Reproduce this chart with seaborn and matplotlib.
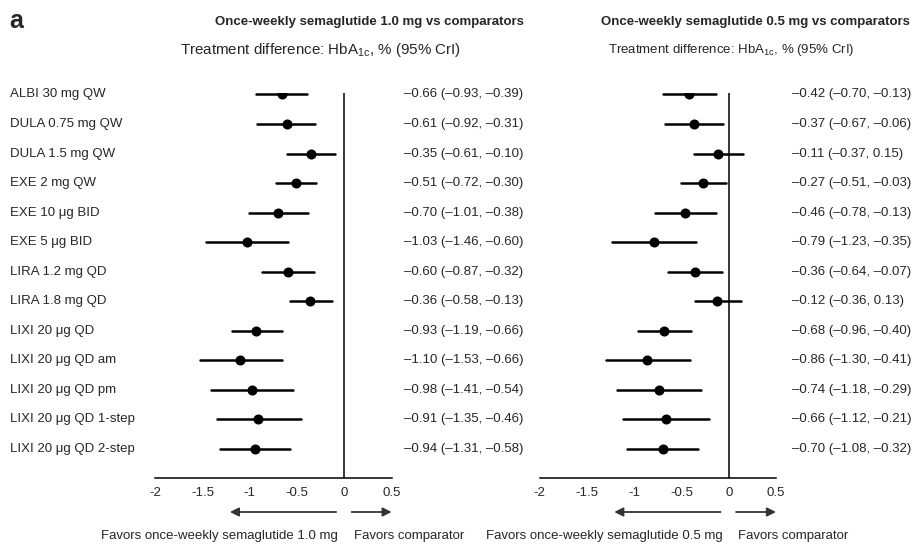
import pandas as pd
import seaborn as sns
import matplotlib.pyplot as plt
from matplotlib.patches import FancyArrowPatch
from matplotlib.transforms import blended_transform_factory

# Comparators (rows top to bottom)
comparators = ["ALBI 30 mg QW", "DULA 0.75 mg QW", "DULA 1.5 mg QW", "EXE 2 mg QW",
               "EXE 10 \u03bcg BID", "EXE 5 \u03bcg BID", "LIRA 1.2 mg QD", "LIRA 1.8 mg QD",
               "LIXI 20 \u03bcg QD", "LIXI 20 \u03bcg QD am", "LIXI 20 \u03bcg QD pm",
               "LIXI 20 \u03bcg QD 1-step", "LIXI 20 \u03bcg QD 2-step"]

# Semaglutide 1.0 mg vs comparators: estimate, lower, upper
sema10_est = [-0.66, -0.61, -0.35, -0.51, -0.70, -1.03, -0.60, -0.36, -0.93, -1.10, -0.98, -0.91, -0.94]
sema10_lo = [-0.93, -0.92, -0.61, -0.72, -1.01, -1.46, -0.87, -0.58, -1.19, -1.53, -1.41, -1.35, -1.31]
sema10_hi = [-0.39, -0.31, -0.10, -0.30, -0.38, -0.60, -0.32, -0.13, -0.66, -0.66, -0.54, -0.46, -0.58]

# Semaglutide 0.5 mg vs comparators
sema05_est = [-0.42, -0.37, -0.11, -0.27, -0.46, -0.79, -0.36, -0.12, -0.68, -0.86, -0.74, -0.66, -0.70]
sema05_lo = [-0.70, -0.67, -0.37, -0.51, -0.78, -1.23, -0.64, -0.36, -0.96, -1.30, -1.18, -1.12, -1.08]
sema05_hi = [-0.13, -0.06, 0.15, -0.03, -0.13, -0.35, -0.07, 0.13, -0.40, -0.41, -0.29, -0.21, -0.32]

x_ticks = [-2, -1.5, -1, -0.5, 0, 0.5]
x_ticklabels = ["-2", "-1.5", "-1", "-0.5", "0", "0.5"]

panels = [
    dict(title="Once-weekly semaglutide 1.0 mg vs comparators", dose="1.0 mg",
         est=sema10_est, lo=sema10_lo, hi=sema10_hi,
         rect=[0.170, 0.121, 0.259, 0.708], val_x=0.443,
         title_x=0.405, sub_x=0.197, sub_size=10.9),
    dict(title="Once-weekly semaglutide 0.5 mg vs comparators", dose="0.5 mg",
         est=sema05_est, lo=sema05_lo, hi=sema05_hi,
         rect=[0.591, 0.121, 0.259, 0.708], val_x=0.867,
         title_x=0.827, sub_x=0.666, sub_size=9.5),
]


def fmt(v):
    s = f"{abs(v):.2f}"
    return ("\u2013" + s) if v < 0 else s


sns.set_theme(style="white")
plt.rcParams['font.family'] = ['Liberation Sans', 'DejaVu Sans']
plt.rcParams['mathtext.fontset'] = 'custom'
plt.rcParams['mathtext.rm'] = 'Liberation Sans'

fig = plt.figure(figsize=(9.13, 5.44), dpi=100)

for p in panels:
    ax = fig.add_axes(p["rect"])
    # long format: lo / est / hi per row -> median = estimate, full range = CrI
    rows = []
    for name, e, l, h in zip(comparators, p["est"], p["lo"], p["hi"]):
        for v in (l, e, h):
            rows.append({"comparator": name, "diff": v})
    df = pd.DataFrame(rows)
    sns.pointplot(data=df, x="diff", y="comparator", order=comparators, estimator="median",
                  errorbar=("pi", 100), linestyle="none", marker="o", markersize=5.2,
                  color="black", err_kws={"linewidth": 1.8}, ax=ax)
    ax.axvline(0, color="black", linewidth=1.1)
    ax.set_xlim(-2, 0.5)
    ax.set_ylim(len(comparators), -0.05)
    ax.set_xticks(x_ticks)
    ax.set_xticklabels(x_ticklabels, fontsize=9.5)
    ax.tick_params(axis="x", length=0, pad=6)
    ax.set_yticks([])
    ax.set_xlabel("")
    ax.set_ylabel("")
    for s in ["top", "right", "left"]:
        ax.spines[s].set_visible(False)
    ax.spines["bottom"].set_color("black")
    ax.spines["bottom"].set_linewidth(1.1)

    tr = blended_transform_factory(fig.transFigure, ax.transData)
    for i, (e, l, h) in enumerate(zip(p["est"], p["lo"], p["hi"])):
        fig.text(p["val_x"], i, f"{fmt(e)} ({fmt(l)}, {fmt(h)})", transform=tr,
                 ha="left", va="center", fontsize=9.5)

    fig.text(p["title_x"], 1 - 22 / 544, p["title"], ha="center", va="center",
             fontsize=9.5, fontweight="bold")
    fig.text(p["sub_x"], 1 - 50 / 544, r"Treatment difference: HbA$_{\mathrm{1c}}$, % (95% CrI)",
             ha="left", va="center", fontsize=p["sub_size"])

    # favors arrows
    x0 = ax.transData.transform((0, 0))[0] / fig.bbox.width
    x_l = ax.transData.transform((-1.24, 0))[0] / fig.bbox.width
    x_r = ax.transData.transform((0.5, 0))[0] / fig.bbox.width
    ya = 1 - 512 / 544
    fig.patches.append(FancyArrowPatch(
        (x0 - 0.006, ya), (x_l, ya), transform=fig.transFigure, arrowstyle="-|>",
        mutation_scale=13, color="#333333", linewidth=1.3))
    fig.patches.append(FancyArrowPatch(
        (x0 + 0.005, ya), (x_r + 0.003, ya), transform=fig.transFigure, arrowstyle="-|>",
        mutation_scale=13, color="#333333", linewidth=1.3))
    yl = 1 - 536 / 544
    fig.text(x0 - 0.007, yl, f"Favors once-weekly semaglutide {p['dose']}", ha="right",
             va="center", fontsize=9.5)
    fig.text(x0 + 0.01, yl, "Favors comparator", ha="left", va="center", fontsize=9.5)

# row labels
ax0 = fig.axes[0]
tr0 = blended_transform_factory(fig.transFigure, ax0.transData)
for i, name in enumerate(comparators):
    fig.text(10 / 913, i, name, transform=tr0, ha="left", va="center", fontsize=9.5)

fig.text(9 / 913, 1 - 21 / 544, "a", fontsize=18, fontweight="bold", ha="left", va="center")

fig.savefig("out.png", dpi=100)
